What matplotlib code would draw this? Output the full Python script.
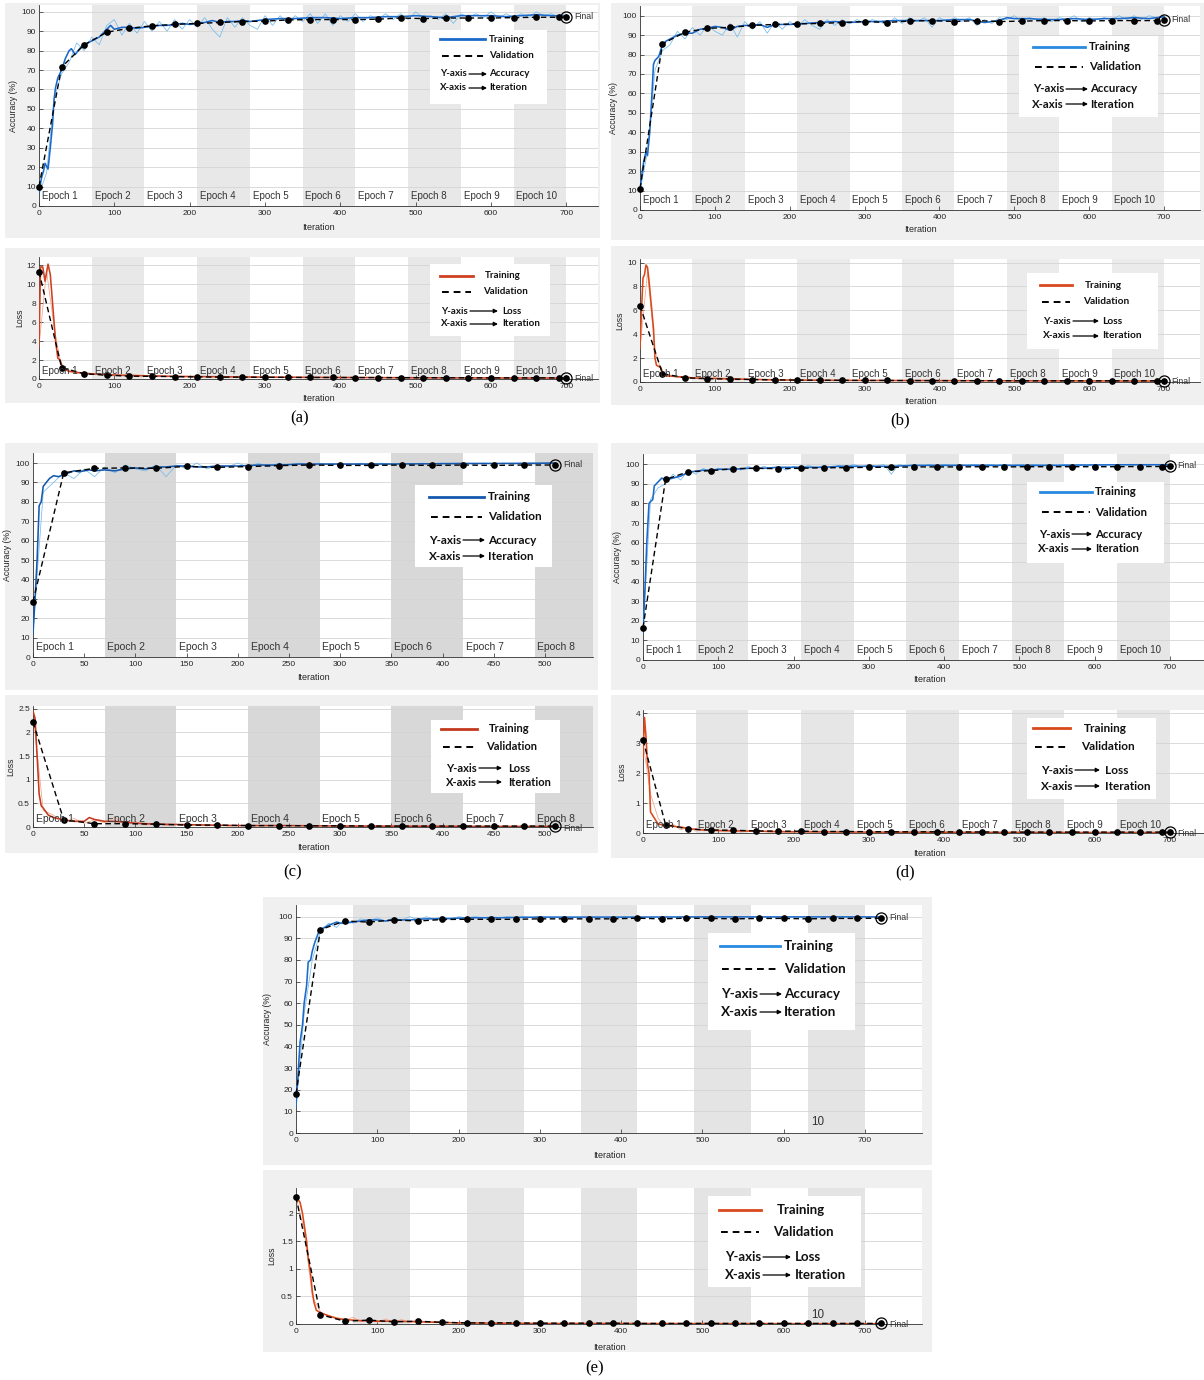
import numpy as np
import matplotlib
matplotlib.use('Agg')
import matplotlib.pyplot as plt
from matplotlib.patches import Rectangle, FancyArrowPatch
from matplotlib.lines import Line2D

W, H = 1204, 1380
plt.rcParams['font.family'] = ['Liberation Sans', 'DejaVu Sans']

VAL_STEP = 30
RAW_STEP = 10
EPOCH_LEN = 70

# ---------------- (a) ----------------
a_acc = [(0, 7), (3, 14), (6, 18), (8, 22), (12, 19), (15, 30), (18, 42), (20, 55), (22, 61), (25, 66),
         (30, 70), (35, 76), (40, 80), (43, 81), (48, 78), (52, 80), (56, 82), (60, 83), (70, 85), (80, 87),
         (90, 91), (95, 93), (100, 91), (110, 92), (120, 92), (130, 91.5), (140, 92), (150, 92.5), (160, 93),
         (170, 93), (180, 93.5), (190, 94), (200, 93.5), (210, 94), (220, 94.5), (230, 95.5), (240, 94.5),
         (250, 95), (260, 95), (270, 95.5), (280, 95), (300, 96), (320, 96.5), (340, 96.5), (360, 97),
         (380, 97), (400, 96.5), (420, 97), (440, 97), (460, 97.5), (480, 97.5), (500, 98), (520, 97.5),
         (540, 97), (560, 98), (580, 98), (600, 98), (620, 97.5), (640, 98), (660, 98.5), (680, 98), (700, 98)]
a_acc_raw = [6, 17, 55, 68, 74, 84, 80, 87, 83, 93, 96, 88, 94, 89, 95, 90, 95, 90, 96, 91,
             96, 92, 97, 91, 87, 97, 92, 97, 93, 91, 98, 93, 98, 94, 98, 95, 99, 94, 99, 93,
             98, 95, 99, 95, 98, 96, 99, 96, 99, 96, 100, 97, 98, 96, 99, 94, 99, 97, 99, 97,
             100, 97, 99, 97, 99, 97, 100, 98, 99, 97, 98]
a_val_acc = [10, 71.5, 83, 89.5, 91.5, 92.8, 93.5, 94, 94.5, 95, 95.2, 95.8, 96, 96, 96, 96.2,
             96.8, 96.5, 96.8, 96.8, 96.8, 97, 97.2, 97.2]
a_final_acc = (700, 97.3)
a_loss = [(0, 3.4), (2, 11.8), (5, 11.8), (8, 10.3), (12, 12.1), (15, 11), (18, 8), (22, 4), (25, 2.2),
          (28, 2.0), (31, 1.3), (35, 1.0), (40, 0.8), (50, 0.7), (60, 0.6), (80, 0.5), (100, 0.42),
          (150, 0.32), (200, 0.26), (300, 0.2), (400, 0.16), (500, 0.13), (600, 0.11), (700, 0.1)]
a_loss_raw = [3.4, 11.4, 5.5, 1.1, 0.95, 0.6, 0.75, 0.45, 0.6, 0.35, 0.5, 0.3, 0.42, 0.28, 0.38,
              0.25, 0.35, 0.22, 0.3, 0.2, 0.28]
a_val_loss = [11.3, 1.2, 0.55, 0.4, 0.3, 0.28, 0.25, 0.22, 0.2, 0.19, 0.18, 0.17, 0.16, 0.16, 0.15,
              0.15, 0.14, 0.14, 0.13, 0.13, 0.12, 0.12, 0.12, 0.12]
a_final_loss = (700, 0.12)

# ---------------- (b) ----------------
b_acc = [(0, 10), (3, 20), (5, 25), (8, 30), (10, 28), (13, 40), (16, 60), (18, 75), (20, 77), (25, 79),
         (30, 85), (35, 87), (40, 88), (50, 90), (60, 91), (70, 91), (80, 93), (90, 93.5), (100, 94.5),
         (110, 94), (120, 92.5), (130, 94.5), (140, 95), (150, 95), (160, 95.5), (170, 94), (180, 95.5),
         (200, 95.5), (220, 96), (240, 96.5), (260, 97), (280, 96.5), (300, 97), (320, 97), (340, 97.5),
         (360, 97.5), (380, 97.5), (400, 97.5), (420, 98), (440, 98), (460, 96.5), (480, 97.5), (490, 99),
         (500, 98.5), (520, 98.5), (540, 98), (560, 98), (580, 98.5), (600, 98), (620, 98.5), (640, 98.5),
         (660, 99), (680, 98.5), (700, 99.5)]
b_acc_raw = [10, 30, 72, 82, 85, 92, 88, 94, 90, 95, 92, 90, 96, 89, 97, 93, 97, 91, 97, 93,
             97, 94, 98, 95, 93, 98, 95, 98, 96, 98, 96, 98, 97, 95, 99, 96, 99, 97, 99, 94,
             99, 97, 99, 97, 99, 95, 98, 96, 99, 98, 100, 97, 99, 98, 99, 97, 99, 98, 100, 97,
             99, 98, 99, 98, 100, 98, 100, 98, 100, 99, 100]
b_val_acc = [11, 85.5, 91.5, 93.5, 94, 95, 95.5, 95.8, 96, 96.5, 97, 96.5, 97.3, 97.5, 97, 97.5,
             97, 97.2, 97.5, 97.5, 97.3, 97.5, 97.5, 97.5]
b_final_acc = (700, 97.6)
b_loss = [(0, 2.8), (2, 6), (4, 8.7), (6, 9), (8, 9.8), (10, 9.6), (12, 8.5), (15, 6.5), (18, 4.5),
          (20, 2.0), (22, 1.4), (25, 1.3), (28, 1.2), (30, 0.8), (35, 0.5), (40, 0.5), (50, 0.45),
          (60, 0.4), (80, 0.3), (100, 0.3), (150, 0.22), (200, 0.16), (300, 0.13), (500, 0.1), (700, 0.08)]
b_loss_raw = [2.8, 9.2, 2.6, 0.6, 0.6, 0.35, 0.5, 0.3, 0.38, 0.22, 0.32, 0.2, 0.28, 0.17, 0.25,
              0.15, 0.22, 0.14, 0.2, 0.13, 0.18]
b_val_loss = [6.4, 0.7, 0.35, 0.28, 0.25, 0.2, 0.18, 0.16, 0.15, 0.14, 0.13, 0.13, 0.12, 0.12, 0.11,
              0.11, 0.11, 0.1, 0.1, 0.1, 0.1, 0.1, 0.1, 0.1]
b_final_loss = (700, 0.1)

# ---------------- (c) ----------------
c_acc = [(0, 12), (2, 30), (4, 50), (6, 78), (8, 80), (10, 88), (13, 90), (16, 92), (20, 93.5), (25, 93),
         (30, 94), (35, 95), (40, 96), (45, 95.5), (50, 96), (55, 96.5), (60, 96), (70, 96.5), (80, 96),
         (90, 97), (100, 97.5), (110, 97), (120, 98), (130, 98), (140, 98.5), (150, 98.5), (160, 98),
         (170, 98), (180, 98.5), (200, 98.5), (220, 99), (240, 99), (260, 99.5), (280, 99.5), (300, 99.5),
         (340, 99.5), (380, 99.6), (420, 99.8), (460, 99.8), (510, 100)]
c_acc_raw = [13, 85, 90, 95, 92, 97, 93, 98, 95, 99, 97, 96, 99, 93, 99, 97, 100, 97, 99, 98,
             100, 98, 100, 98, 100, 99, 100, 99, 100, 99, 100, 99, 100, 99, 100, 99, 100, 99.5, 100, 99.5,
             100, 99.5, 100, 99.5, 100, 99.5, 100, 99.5, 100, 99.5, 100, 100]
c_val_acc = [28.5, 95, 97.3, 97.5, 97.3, 98.3, 97.8, 98.2, 98.7, 99, 98.8, 98.8, 99, 98.8, 99, 98.8, 99]
c_final_acc = (510, 99)
c_loss = [(0, 2.45), (2, 2.3), (4, 1.5), (6, 0.7), (8, 0.45), (10, 0.4), (15, 0.25), (20, 0.2), (30, 0.15),
          (40, 0.12), (50, 0.12), (55, 0.2), (60, 0.16), (70, 0.12), (80, 0.12), (100, 0.08), (120, 0.06),
          (150, 0.05), (200, 0.03), (250, 0.03), (300, 0.02), (400, 0.015), (510, 0.01)]
c_loss_raw = [2.4, 0.35, 0.25, 0.1, 0.18, 0.08, 0.15, 0.09, 0.2, 0.05, 0.12, 0.04, 0.08, 0.03, 0.06,
              0.03, 0.05, 0.02, 0.04, 0.02, 0.03]
c_val_loss = [2.22, 0.15, 0.07, 0.07, 0.06, 0.04, 0.04, 0.03, 0.03, 0.025, 0.025, 0.02, 0.02, 0.02,
              0.02, 0.02, 0.02]
c_final_loss = (510, 0.02)

# ---------------- (d) ----------------
d_acc = [(0, 14), (3, 40), (5, 60), (8, 80), (10, 81), (13, 82), (15, 89), (20, 91), (25, 93), (30, 92),
         (40, 93), (50, 94), (60, 96), (70, 96.5), (80, 97), (90, 97), (100, 97.5), (120, 97.5), (140, 98),
         (160, 98), (180, 98.5), (200, 98.5), (220, 98.5), (240, 98.5), (260, 99), (280, 99), (300, 99),
         (330, 99), (360, 99.5), (400, 99.5), (450, 99.5), (500, 99.5), (550, 99.5), (600, 99.7),
         (650, 99.8), (700, 99.8)]
d_acc_raw = [15, 82, 88, 90, 95, 92, 97, 95, 98, 96, 98, 97, 99, 97, 99, 97, 99, 98, 99, 97,
             99, 98, 99.5, 98, 99.5, 98, 99.5, 98.5, 100, 98.5, 100, 99, 100, 95, 100, 99, 100, 99, 100, 99,
             100, 99.5, 100, 99.5, 100, 99.5, 100, 99.5, 100, 99.5, 100, 99.5, 100, 99.5, 100, 99.5, 100,
             99.5, 100, 99.5, 100, 99.5, 100, 99.5, 100, 99.5, 100, 99.5, 100, 99.5, 100]
d_val_acc = [16.5, 92.3, 96.2, 96.8, 97.8, 98, 97.8, 98, 98.3, 98.3, 98.5, 98.5, 98.7, 98.7, 98.7,
             98.8, 98.7, 98.8, 98.8, 98.8, 98.8, 98.8, 98.9, 98.9]
d_final_acc = (700, 99)
d_loss = [(0, 2.5), (2, 3.85), (4, 3.2), (6, 2.3), (8, 2.0), (10, 0.7), (15, 0.5), (20, 0.3), (30, 0.25),
          (40, 0.22), (50, 0.2), (60, 0.15), (80, 0.1), (100, 0.08), (130, 0.07), (150, 0.06), (200, 0.04),
          (300, 0.03), (400, 0.025), (500, 0.02), (700, 0.015)]
d_loss_raw = [3.0, 1.3, 0.5, 0.15, 0.3, 0.1, 0.2, 0.06, 0.12, 0.05, 0.1, 0.04, 0.08, 0.03, 0.06,
              0.03, 0.05, 0.02, 0.04, 0.02, 0.03]
d_val_loss = [3.1, 0.28, 0.13, 0.1, 0.09, 0.07, 0.06, 0.06, 0.05, 0.05, 0.045, 0.04, 0.04, 0.04,
              0.035, 0.035, 0.03, 0.03, 0.03, 0.03, 0.03, 0.03, 0.03, 0.03]
d_final_loss = (700, 0.03)

# ---------------- (e) ----------------
e_acc = [(0, 12), (3, 30), (5, 42), (8, 50), (10, 60), (13, 68), (15, 79), (18, 80), (20, 84), (23, 88),
         (25, 90), (28, 93), (30, 94), (40, 96), (50, 97.5), (55, 97), (60, 97), (70, 97.5), (80, 98),
         (90, 98.5), (100, 98.5), (110, 98), (120, 98.5), (140, 98.5), (160, 99), (180, 99), (200, 99.3),
         (220, 99.5), (250, 99.5), (280, 99.7), (300, 99.8), (400, 99.8), (500, 99.9), (600, 99.9), (720, 99.9)]
e_acc_raw = [12, 55, 80, 93, 97, 95, 99, 97, 99, 98, 99.5, 98, 99.5, 98.5, 100, 98.5, 100, 99, 100, 99,
             100, 99.5, 100, 99.5, 100, 99.5, 100, 99.5, 100, 99.5, 100]
e_val_acc = [18, 94, 98, 97.5, 98.5, 98, 98.7, 98.8, 98.8, 98.8, 99, 99, 99, 99, 99.3, 99, 99.3,
             99.2, 99, 99.2, 99.2, 99, 99.2, 99.2]
e_final_acc = (720, 99.3)
e_loss = [(0, 2.3), (5, 2.2), (8, 2.0), (10, 1.8), (13, 1.5), (15, 1.2), (18, 0.9), (20, 0.6), (22, 0.4),
          (25, 0.25), (30, 0.2), (40, 0.15), (50, 0.1), (60, 0.08), (80, 0.06), (100, 0.05), (120, 0.05),
          (150, 0.04), (200, 0.02), (300, 0.01), (720, 0.005)]
e_loss_raw = [2.3, 1.7, 0.5, 0.22, 0.15, 0.12, 0.08, 0.12, 0.04, 0.1, 0.03, 0.09, 0.04, 0.08, 0.03,
              0.09, 0.02, 0.05, 0.01, 0.03, 0.01]
e_val_loss = [2.3, 0.17, 0.05, 0.07, 0.04, 0.05, 0.03, 0.02, 0.02, 0.02, 0.015, 0.015, 0.015, 0.015,
              0.01, 0.01, 0.01, 0.01, 0.01, 0.01, 0.01, 0.01, 0.01, 0.01]
e_final_loss = (720, 0.01)

acc_ticks = list(range(0, 101, 10))
it_ticks_700 = list(range(0, 701, 100))
it_ticks_500 = list(range(0, 501, 50))

fig = plt.figure(figsize=(W / 100, H / 100), dpi=100)
fig.patch.set_facecolor('white')


def fy(y):
    return 1 - y / H


def gray_panel(l, t, r, b):
    fig.patches.append(Rectangle((l / W, fy(b)), (r - l) / W, (b - t) / H, transform=fig.transFigure,
                                 fc='#f0f0f0', ec='none', zorder=-5))


def make_axes(l, t, r, b):
    ax = fig.add_axes([l / W, fy(b), (r - l) / W, (b - t) / H])
    ax._px = (l, t, r, b)
    return ax


def draw(ax, smooth, raw, val, final, xlim, ylim, xticks, yticks, dark, light, band,
         n_epochs, ylabel, ylab_x, xlab_y, epoch_off, epoch_labels=None, epoch_fs=7, final_dy=0.5):
    l, t, r, b = ax._px
    ax.set_xlim(*xlim)
    ax.set_ylim(*ylim)
    for k in range(2, n_epochs + 1, 2):
        ax.axvspan(EPOCH_LEN * (k - 1), EPOCH_LEN * k, color=band, lw=0, zorder=0.2)
    ax.set_axisbelow(True)
    ax.yaxis.grid(True, color='#d4d4d4', lw=0.6)
    for s in ['top', 'right']:
        ax.spines[s].set_visible(False)
    for s in ['left', 'bottom']:
        ax.spines[s].set_color('#303030')
        ax.spines[s].set_linewidth(0.6)
    ax.set_xticks(xticks)
    ax.set_yticks(yticks)
    ax.set_yticklabels([('%g' % v) for v in yticks])
    ax.tick_params(direction='in', length=3, width=0.5, labelsize=6, pad=2.2, colors='#262626')
    ax.tick_params(axis='x', pad=3.2)

    rx = np.arange(len(raw)) * RAW_STEP
    ax.plot(rx, raw, color=light, lw=0.55, zorder=2)
    sx, sy = zip(*smooth)
    ax.plot(sx, sy, color=dark, lw=1.15, zorder=3)
    vx = list(np.arange(len(val)) * VAL_STEP) + [final[0]]
    vy = list(val) + [final[1]]
    ax.plot(vx, vy, color='black', ls=(0, (4, 2.5)), lw=1.0, zorder=4, clip_on=False)
    ax.plot(vx, vy, 'o', color='black', ms=3.8, zorder=5, clip_on=False)
    ax.plot([final[0]], [final[1]], 'o', mfc='none', mec='black', ms=8, mew=0.9, zorder=5, clip_on=False)
    ax.annotate('Final', final, xytext=(5.5, final_dy), textcoords='offset points', va='center',
                fontsize=6.3, color='#333333', annotation_clip=False)

    if epoch_labels is None:
        epoch_labels = [(k, 'Epoch %d' % k) for k in range(1, n_epochs + 1)]
    for k, txt in epoch_labels:
        ax.annotate(txt, (EPOCH_LEN * (k - 1), 0), xycoords=('data', 'axes fraction'),
                    xytext=(2, epoch_off), textcoords='offset points', va='center', ha='left',
                    fontsize=epoch_fs, color='#333333', zorder=6)

    ax.set_ylabel(ylabel, fontsize=6.3, color='#262626', va='center', ha='center')
    ax.yaxis.set_label_coords((ylab_x - l) / (r - l), 0.5)
    ax.set_xlabel('Iteration', fontsize=6.5, color='#262626', va='center', ha='center')
    ax.xaxis.set_label_coords(0.5, (b - xlab_y) / (b - t))


def legend(box, ys, line, text_x, vtext_x, axl_x, arrow, word_x, fs, color, word):
    l, t, r, b = box
    fig.patches.append(Rectangle((l / W, fy(b)), (r - l) / W, (b - t) / H, transform=fig.transFigure,
                                 fc='white', ec='none', zorder=10))
    x0, x1 = line
    fig.add_artist(Line2D([x0 / W, x1 / W], [fy(ys[0])] * 2, transform=fig.transFigure,
                          color=color, lw=2.0, zorder=11))
    fig.add_artist(Line2D([(x0 + 2) / W, (x1 - 2) / W], [fy(ys[1])] * 2, transform=fig.transFigure,
                          color='black', lw=1.4, ls=(0, (3.5, 2.5)), zorder=11))
    kw = dict(fontsize=fs, fontweight='bold', family=['Lato', 'DejaVu Sans'], va='center', ha='left',
              zorder=11, color='#111111')
    fig.text(text_x / W, fy(ys[0]), 'Training', **kw)
    fig.text(vtext_x / W, fy(ys[1]), 'Validation', **kw)
    a0, a1 = arrow
    for y, lab, w in [(ys[2], 'Y-axis', word), (ys[3], 'X-axis', 'Iteration')]:
        # axis name ends just before the arrow
        kw_r = dict(kw, ha='right')
        fig.text((a0 - 2) / W, fy(y), lab, **kw_r)
        fig.add_artist(FancyArrowPatch((a0 / W, fy(y)), (a1 / W, fy(y)),
                                       transform=fig.transFigure, arrowstyle='-|>', mutation_scale=6,
                                       lw=0.9, color='black', shrinkA=0, shrinkB=0, zorder=11))
        fig.text(word_x / W, fy(y), w, **kw)


ACC_DARK, ACC_LIGHT = '#1b6ac9', '#74bbec'
LOSS_DARK, LOSS_LIGHT = '#d84a1b', '#f3a68a'

# background panels
for p in [(5, 3, 600, 238), (5, 248, 600, 403), (611, 3, 1204, 240), (611, 246, 1204, 405),
          (5, 443, 598, 690), (5, 695, 598, 853), (611, 443, 1204, 690), (611, 695, 1204, 858),
          (263, 897, 932, 1165), (263, 1170, 932, 1352)]:
    gray_panel(*p)

# (a)
ax = make_axes(39, 5, 598, 206)
draw(ax, a_acc, a_acc_raw, a_val_acc, a_final_acc, (0, 742), (0, 103.5), it_ticks_700, acc_ticks,
     ACC_DARK, ACC_LIGHT, '#e8e8e8', 10, 'Accuracy (%)', 14, 228, 7.2)
ax = make_axes(39, 257, 598, 379)
draw(ax, a_loss, a_loss_raw, a_val_loss, a_final_loss, (0, 742), (0, 12.85), it_ticks_700,
     list(range(0, 13, 2)), '#cf4020', LOSS_LIGHT, '#e8e8e8', 10, 'Loss', 20, 399, 5.5, final_dy=-0.8)
legend((430, 30, 547, 104), (39, 56, 74, 88), (440, 485), 489, 489, 438, (469, 487), 489, 7,
       ACC_DARK, 'Accuracy')
legend((430, 264, 550, 336), (276, 292, 311, 324), (440, 473), 485, 483, 440, (470, 498), 502, 7,
       '#cf4020', 'Loss')

# (b)
ax = make_axes(640, 6, 1200, 210)
draw(ax, b_acc, b_acc_raw, b_val_acc, b_final_acc, (0, 748), (0, 105), it_ticks_700, acc_ticks,
     ACC_DARK, ACC_LIGHT, '#ebebeb', 10, 'Accuracy (%)', 614, 230, 7.2)
ax = make_axes(640, 259, 1200, 382)
draw(ax, b_loss, b_loss_raw, b_val_loss, b_final_loss, (0, 748), (0, 10.3), it_ticks_700,
     list(range(0, 11, 2)), LOSS_DARK, LOSS_LIGHT, '#ebebeb', 10, 'Loss', 620, 401, 5.5, final_dy=-0.8)
legend((1019, 36, 1158, 117), (47, 67, 89, 104), (1033, 1085), 1089, 1089, 1030, (1066, 1088), 1090,
       8.2, '#2a8ae0', 'Accuracy')
legend((1027, 273, 1158, 349), (285, 302, 321, 336), (1040, 1072), 1085, 1083, 1040, (1073, 1099),
       1102, 7.3, LOSS_DARK, 'Loss')

# (c)
ax = make_axes(33, 453, 593, 657)
draw(ax, c_acc, c_acc_raw, c_val_acc, c_final_acc, (0, 547), (0, 105.2), it_ticks_500, acc_ticks,
     '#1559ae', ACC_LIGHT, '#d8d8d8', 8, 'Accuracy (%)', 8, 678, 7.2, epoch_fs=7.5)
ax = make_axes(33, 706, 593, 827)
draw(ax, c_loss, c_loss_raw, c_val_loss, c_final_loss, (0, 547), (0, 2.56), it_ticks_500,
     [0, 0.5, 1, 1.5, 2, 2.5], '#c4391e', LOSS_LIGHT, '#d8d8d8', 8, 'Loss', 11, 847, 6.0, epoch_fs=7.5,
     final_dy=-1.5)
legend((415, 485, 552, 567), (497, 517, 540, 556), (429, 484), 488, 488, 426, (463, 485), 488, 8.5,
       '#1559ae', 'Accuracy')
legend((431, 720, 560, 793), (729, 747, 768, 782), (441, 477), 489, 486, 440, (479, 502), 508, 8,
       '#c4391e', 'Loss')

# (d)
ax = make_axes(643, 454, 1215, 660)
draw(ax, d_acc, d_acc_raw, d_val_acc, d_final_acc, (0, 760), (0, 105.3), it_ticks_700, acc_ticks,
     ACC_DARK, ACC_LIGHT, '#e6e6e6', 10, 'Accuracy (%)', 617, 680, 7.2)
ax = make_axes(643, 710, 1215, 833)
draw(ax, d_loss, d_loss_raw, d_val_loss, d_final_loss, (0, 760), (0, 4.1), it_ticks_700,
     [0, 1, 2, 3, 4], LOSS_DARK, LOSS_LIGHT, '#e6e6e6', 10, 'Loss', 622, 853, 5.5, final_dy=-0.8)
legend((1027, 482, 1164, 563), (492, 512, 534, 549), (1040, 1092), 1095, 1095, 1038, (1072, 1092), 1095,
       8.2, '#2a8ae0', 'Accuracy')
legend((1027, 718, 1156, 799), (728, 747, 770, 786), (1033, 1070), 1084, 1081, 1038, (1075, 1100), 1105,
       8.5, LOSS_DARK, 'Loss')

# (e)
ax = make_axes(296, 905, 922, 1133)
draw(ax, e_acc, e_acc_raw, e_val_acc, e_final_acc, (0, 770), (0, 105.4), it_ticks_700, acc_ticks,
     ACC_DARK, ACC_LIGHT, '#e4e4e4', 10, 'Accuracy (%)', 268, 1156, 8, epoch_labels=[(10, '10')],
     epoch_fs=8.4)
ax = make_axes(296, 1188, 922, 1324)
draw(ax, e_loss, e_loss_raw, e_val_loss, e_final_loss, (0, 770), (0, 2.46), it_ticks_700,
     [0, 0.5, 1, 1.5, 2], LOSS_DARK, LOSS_LIGHT, '#e4e4e4', 10, 'Loss', 272, 1347, 6.2,
     epoch_labels=[(10, '10')], epoch_fs=8.4, final_dy=-0.8)
legend((708, 933, 855, 1030), (946, 969, 994, 1012), (720, 780), 784, 784, 722, (760, 782), 784, 9.7,
       '#2a8ae0', 'Accuracy')
legend((708, 1196, 861, 1287), (1210, 1232, 1257, 1275), (719, 761), 777, 773, 721, (763, 791), 795,
       9.5, LOSS_DARK, 'Loss')

for lab, x, y in [('(a)', 300, 418), ('(b)', 900, 420), ('(c)', 293, 872), ('(d)', 905, 872),
                  ('(e)', 595, 1368)]:
    fig.text(x / W, fy(y), lab, fontsize=12, family='Liberation Serif', ha='center', va='center')

fig.savefig('out.png', dpi=100)
